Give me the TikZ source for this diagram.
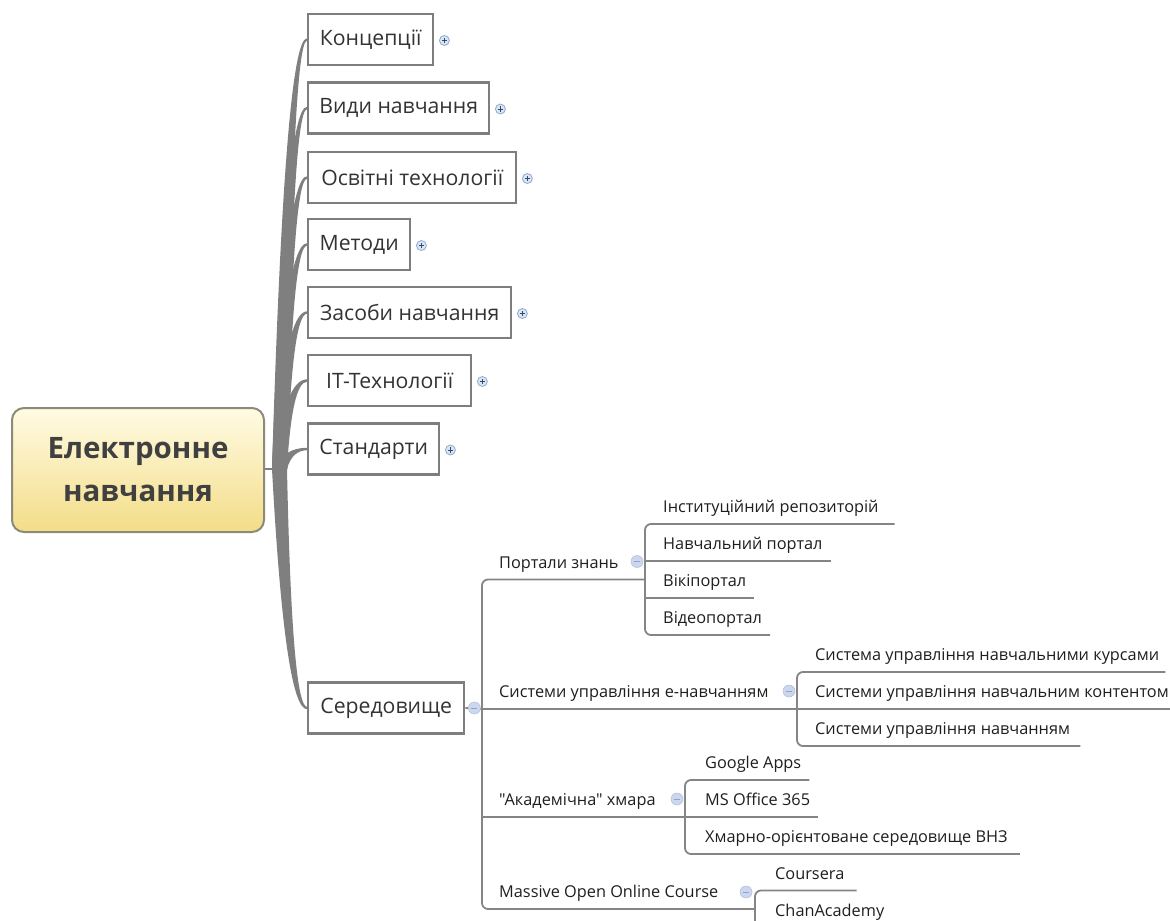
\documentclass[tikz,border=0pt]{standalone}
\usepackage{fontspec}
\setmainfont{Open Sans}[Ligatures=TeXOff]
\usetikzlibrary{calc}

\definecolor{branchgray}{HTML}{7F7F7F}
\definecolor{boxgray}{HTML}{7E7E7E}
\definecolor{linegray}{HTML}{858585}
\definecolor{rootedge}{HTML}{8C8A78}
\definecolor{roottop}{HTML}{FFFBE3}
\definecolor{rootbot}{HTML}{F3DD88}
\definecolor{roottext}{HTML}{404040}
\definecolor{txttwo}{HTML}{333333}
\definecolor{txtthree}{HTML}{1E1E1E}
\definecolor{plusfill}{HTML}{DAE5F3}
\definecolor{plusring}{HTML}{93AACB}
\definecolor{plussign}{HTML}{2E4A78}
\definecolor{minusfill}{HTML}{CCD7EE}
\definecolor{minusring}{HTML}{B3C2E2}
\definecolor{minussign}{HTML}{8FA2CC}

\tikzset{
  rootbox/.style={draw=rootedge, line width=2pt, rounded corners=12pt,
    top color=roottop, bottom color=rootbot,
    minimum width=252pt, minimum height=124pt, align=center,
    font=\fontsize{29.5}{43}\selectfont\bfseries, text=roottext},
  topic/.style={draw=boxgray, line width=2.4pt, fill=white, anchor=west,
    minimum height=51pt, inner xsep=11pt, inner ysep=0pt,
    font=\fontsize{21.2}{25}\selectfont, text=txttwo},
  leaf/.style={anchor=south west, inner sep=0pt, text height=12pt, text depth=11pt,
    font=\fontsize{16.3}{19}\selectfont, text=txtthree},
  sub/.style={draw=linegray, line width=1.8pt, rounded corners=6pt},
  plusicon/.style={circle, minimum size=10pt, inner sep=0pt, fill=plusfill,
    draw=plusring, line width=0.8pt,
    path picture={\draw[plussign, line width=0.9pt]
      ([xshift=-2.6pt]path picture bounding box.center) -- ([xshift=2.6pt]path picture bounding box.center)
      ([yshift=-2.6pt]path picture bounding box.center) -- ([yshift=2.6pt]path picture bounding box.center);}},
  minusicon/.style={circle, minimum size=12pt, inner sep=0pt, fill=minusfill,
    draw=minusring, line width=0.6pt,
    path picture={\draw[minussign, line width=1pt]
      ([xshift=-3pt]path picture bounding box.center) -- ([xshift=3pt]path picture bounding box.center);}},
}

\begin{document}
\begin{tikzpicture}[x=1pt, y=-1pt]
\useasboundingbox (0,0) rectangle (1170,921);
\clip (0,0) rectangle (1170,921);

% central topic
\node[rootbox] (root) at (138,470) {Електронне\\навчання};
\coordinate (hub) at (274,469);
\draw[branchgray, line width=2pt] (root.east |- hub) -- (hub);

% main topics
\node[topic, minimum width=125pt] (k)  at (307,39.5)  {Концепції};
\node[topic, minimum width=181pt] (v)  at (307,108)   {Види навчання};
\node[topic, minimum width=208pt] (o)  at (307,177.5) {Освітні технології};
\node[topic, minimum width=102pt] (m)  at (307,244.5) {Методи};
\node[topic, minimum width=203pt] (z)  at (307,312.5) {Засоби навчання};
\node[topic, minimum width=163pt] (it) at (307,380.5) {IT-Технології};
\node[topic, minimum width=131pt] (st) at (307,449)   {Стандарти};
\node[topic, minimum width=156pt] (sr) at (307,708)   {Середовище};

% tapered branches from the hub to every main topic
\foreach \t/\yy/\s in {k/39.5/-1, v/108/-1, o/177.5/-1, m/244.5/-1,
                       z/312.5/-1, it/380.5/-1, st/449/-1, sr/708/1} {
  \path ($(\t.west)+(0,{1.2*\s})$) coordinate (ea)
        ($(\t.west)-(0,{1.2*\s})$) coordinate (eb)
        (285,{\yy+1.5*\s}) coordinate (ca)
        (292,{\yy-1.5*\s}) coordinate (cb)
        (272,469) coordinate (sa)
        (287,469) coordinate (sb);
  \fill[branchgray] (sa) .. controls ($(sa)!2/3!(ca)$) and ($(ea)!2/3!(ca)$) .. (ea)
     -- (eb) .. controls ($(eb)!2/3!(cb)$) and ($(sb)!2/3!(cb)$) .. (sb) -- cycle;
}

% collapsed markers
\foreach \t in {k, v, o, m, z, it, st}
  \node[plusicon] at ([shift={(10,1)}]\t.east) {};

% subtopics of "Середовище"
\node[leaf] (portals) at (482,579.5) {\hspace*{17pt}Портали знань\hspace*{8pt}};
\node[leaf] (lms)     at (482,709)   {\hspace*{17pt}Системи управління е-навчанням\hspace*{8pt}};
\node[leaf] (cloud)   at (482,817)   {\hspace*{17pt}"Академічна" хмара\hspace*{8pt}};
\node[leaf] (mooc)    at (482,909)   {\hspace*{17pt}Massive Open Online Course\hspace*{8pt}};

\coordinate (jP) at (645,579.5);
\coordinate (jL) at (797,709);
\coordinate (jC) at (685,817);
\coordinate (jM) at (755,909);

\node[leaf] (p1) at (645,524) {\hspace*{18pt}Інституційний репозиторій\hspace*{16pt}};
\node[leaf] (p2) at (645,561) {\hspace*{18pt}Навчальний портал\hspace*{8pt}};
\node[leaf] (p3) at (645,598) {\hspace*{18pt}Вікіпортал\hspace*{8pt}};
\node[leaf] (p4) at (645,635) {\hspace*{18pt}Відеопортал\hspace*{8pt}};

\node[leaf] (l1) at (797,672) {\hspace*{18pt}Система управління навчальними курсами\hspace*{6pt}};
\node[leaf] (l2) at (797,709) {\hspace*{18pt}Системи управління навчальним контентом\hspace*{8pt}};
\node[leaf] (l3) at (797,746) {\hspace*{18pt}Системи управління навчанням\hspace*{10pt}};

\node[leaf] (c1) at (685,780) {\hspace*{20pt}Google Apps\hspace*{8pt}};
\node[leaf] (c2) at (685,817) {\hspace*{20pt}MS Office 365\hspace*{8pt}};
\node[leaf] (c3) at (685,854) {\hspace*{20pt}Хмарно-орієнтоване середовище ВНЗ\hspace*{12pt}};

\node[leaf] (o1) at (755,890.5) {\hspace*{20pt}Coursera\hspace*{12pt}};
\node[leaf] (o2) at (755,927.5) {\hspace*{20pt}ChanAcademy\hspace*{12pt}};

% connectors of the "Середовище" subtree
\draw[sub] (sr.east) -- (lms.south west);
\draw[sub] (jP) -- (portals.south west) -- (mooc.south west) -- (jM);
\draw[sub] (lms.south west) -- (jL);
\draw[sub] (cloud.south west) -- (jC);

\draw[sub] (p1.south east) -- (p1.south west) -- (p4.south west) -- (p4.south east);
\draw[sub] (p2.south west) -- (p2.south east);
\draw[sub] (p3.south west) -- (p3.south east);

\draw[sub] (l1.south east) -- (l1.south west) -- (l3.south west) -- (l3.south east);
\draw[sub] (l2.south west) -- (l2.south east);

\draw[sub] (c1.south east) -- (c1.south west) -- (c3.south west) -- (c3.south east);
\draw[sub] (c2.south west) -- (c2.south east);

\draw[sub] (o1.south east) -- (o1.south west) -- (o2.south west) -- (o2.south east);

% expanded markers
\node[minusicon] at ([xshift=9pt]sr.east) {};
\node[minusicon] at ([shift={(-8,-18)}]jP) {};
\node[minusicon] at ([shift={(-8,-18)}]jL) {};
\node[minusicon] at ([shift={(-8,-18)}]jC) {};
\node[minusicon] at ([shift={(-9,-17)}]jM) {};
\end{tikzpicture}
\end{document}
